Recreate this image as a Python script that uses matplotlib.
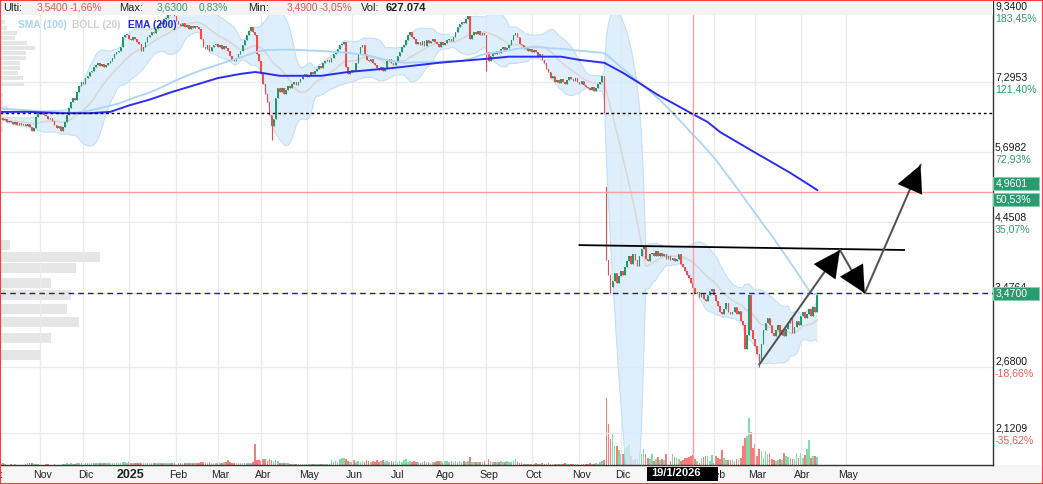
import numpy as np
import pandas as pd
import matplotlib
matplotlib.use("Agg")
import matplotlib.pyplot as plt
from matplotlib.patches import Rectangle
from matplotlib.transforms import IdentityTransform

plt.rcParams['font.family'] = ['Liberation Sans', 'DejaVu Sans']

# ---------------------------------------------------------------- data
start_date = "2024-10-07"          # first business day shown

closes = [
    6.42, 6.38, 6.40, 6.34, 6.36, 6.33, 6.30, 6.35, 6.28, 6.31,
    6.27, 6.30, 6.25, 6.29, 6.24, 6.15, 6.20, 6.45, 6.55, 6.52,
    6.58, 6.50, 6.48, 6.40, 6.44, 6.36, 6.28, 6.20, 6.25, 6.14,
    6.22, 6.35, 6.50, 6.65, 6.80, 6.90, 6.85, 7.05, 7.20, 7.30,
    7.25, 7.40, 7.45, 7.55, 7.60, 7.70, 7.75, 7.80, 7.72, 7.78,
    7.70, 7.76, 7.80, 7.85, 7.95, 8.05, 8.10, 8.15, 8.25, 8.55,
    8.60, 8.62, 8.50, 8.45, 8.55, 8.48, 8.40, 8.35, 8.15, 8.25,
    8.40, 8.55, 8.62, 8.70, 8.68, 8.80, 8.90, 9.00, 8.95, 9.10,
    9.15, 9.25, 9.30, 9.28, 9.20, 9.05, 8.95, 8.90, 8.98, 8.85,
    8.92, 8.80, 8.88, 8.82, 8.90, 8.86, 8.80, 8.50, 8.25, 8.20,
    8.30, 8.15, 8.25, 8.30, 8.35, 8.25, 8.30, 8.20, 8.28, 8.22,
    8.15, 8.00, 7.90, 7.85, 7.95, 8.05, 8.15, 8.30, 8.45, 8.60,
    8.75, 8.85, 8.70, 8.60, 8.05, 7.85, 7.50, 7.25, 7.00, 6.80,
    6.50, 6.25, 6.40, 6.90, 7.15, 7.05, 7.15, 7.00, 7.10, 7.20,
    7.15, 7.25, 7.30, 7.22, 7.30, 7.38, 7.45, 7.50, 7.42, 7.48,
    7.55, 7.50, 7.58, 7.65, 7.72, 7.68, 7.80, 7.85, 7.90, 7.82,
    7.95, 8.05, 8.10, 8.20, 8.30, 8.35, 8.40, 7.70, 7.50, 7.55,
    7.62, 7.58, 7.80, 8.05, 8.25, 8.30, 8.05, 7.90, 7.85, 7.92,
    7.80, 7.75, 7.68, 7.62, 7.70, 7.60, 7.65, 7.85, 7.92, 7.80,
    7.75, 7.82, 8.00, 8.10, 8.25, 8.30, 8.45, 8.60, 8.70, 8.55,
    8.48, 8.35, 8.40, 8.30, 8.42, 8.28, 8.45, 8.38, 8.42, 8.50,
    8.40, 8.35, 8.25, 8.40, 8.30, 8.38, 8.45, 8.50, 8.42, 8.55,
    8.70, 8.85, 8.95, 9.02, 8.98, 9.10, 9.20, 8.50, 8.60, 8.70,
    8.65, 8.72, 8.62, 8.68, 8.60, 8.10, 7.85, 8.00, 8.10, 8.05,
    8.15, 8.08, 8.20, 8.25, 8.18, 8.22, 8.30, 8.45, 8.60, 8.68,
    8.55, 8.35, 8.30, 8.20, 8.25, 8.15, 8.20, 8.12, 8.18, 8.10,
    8.00, 8.05, 7.90, 7.80, 7.65, 7.55, 7.40, 7.45, 7.30, 7.35,
    7.28, 7.38, 7.30, 7.25, 7.35, 7.42, 7.38, 7.32, 7.40, 7.30,
    7.25, 7.32, 7.22, 7.18, 7.15, 7.10, 7.18, 7.08, 7.15, 7.25,
    7.30, 7.45, 6.55, 3.90, 3.70, 3.55, 3.62, 3.72, 3.60, 3.68,
    3.75, 3.70, 3.80, 3.88, 3.95, 3.85, 3.98, 3.90, 3.82, 3.95,
    4.05, 4.10, 3.92, 3.88, 3.98, 4.00, 3.95, 4.02, 3.96, 4.00,
    3.95, 3.98, 3.92, 3.95, 3.90, 3.93, 3.88, 3.92, 3.98, 3.85,
    3.80, 3.75, 3.70, 3.66, 3.60, 3.54, 3.47, 3.48, 3.42, 3.46,
    3.40, 3.38, 3.45, 3.50, 3.52, 3.45, 3.38, 3.32, 3.25, 3.22,
    3.28, 3.35, 3.25, 3.22, 3.25, 3.30, 3.22, 3.26, 3.15, 3.10,
    2.85, 3.00, 3.45, 3.05, 2.95, 2.88, 2.80, 2.72, 2.90, 3.05,
    3.12, 3.18, 3.10, 3.02, 2.98, 3.05, 3.10, 3.00, 3.05, 2.98,
    3.06, 3.12, 3.18, 3.02, 3.08, 3.15, 3.10, 3.20, 3.25, 3.18,
    3.22, 3.28, 3.20, 3.30, 3.25, 3.47,
]

volumes = [  # thousands of shares
    40, 130, 60, 30, 25, 40, 30, 35, 25, 30,
    30, 25, 40, 130, 125, 120, 35, 60, 40, 30,
    30, 25, 35, 40, 30, 25, 35, 30, 25, 30,
    35, 60, 110, 90, 125, 60, 80, 120, 125, 130,
    125, 120, 130, 125, 110, 125, 130, 120, 125, 115,
    125, 130, 120, 110, 125, 130, 120, 125, 130, 190,
    190, 150, 190, 140, 125, 120, 130, 125, 120, 140,
    125, 120, 130, 125, 120, 130, 125, 110, 120, 125,
    130, 125, 120, 130, 125, 120, 125, 130, 125, 120,
    125, 130, 120, 125, 130, 140, 125, 160, 190, 150,
    130, 160, 140, 125, 130, 150, 140, 130, 160, 200,
    320, 190, 130, 125, 130, 125, 130, 125, 120, 125,
    130, 140, 190, 1320, 320, 300, 250, 380, 360, 260,
    380, 300, 250, 310, 250, 120, 125, 110, 125, 100,
    70, 60, 60, 80, 60, 70, 60, 65, 60, 70,
    60, 65, 70, 60, 80, 70, 60, 70, 75, 65,
    320, 190, 250, 190, 380, 440, 410, 380, 250, 190,
    190, 315, 190, 250, 190, 250, 190, 315, 250, 190,
    250, 190, 315, 190, 250, 315, 190, 250, 190, 250,
    190, 250, 190, 250, 190, 315, 380, 190, 250, 190,
    250, 190, 190, 125, 190, 250, 190, 190, 125, 190,
    190, 250, 250, 250, 190, 250, 250, 190, 250, 190,
    250, 190, 250, 190, 250, 190, 250, 500, 190, 190,
    190, 190, 190, 190, 250, 1010, 380, 250, 190, 190,
    190, 190, 250, 190, 190, 250, 190, 190, 250, 380,
    190, 125, 125, 90, 60, 90, 60, 90, 60, 125,
    90, 60, 125, 60, 90, 125, 60, 90, 60, 90,
    60, 90, 60, 125, 60, 90, 60, 60, 90, 60,
    90, 60, 90, 60, 90, 125, 90, 60, 125, 90,
    190, 250, 315, 4220, 2580, 1640, 2020, 1200, 1200, 950,
    690, 690, 1010, 1130, 1320, 570, 315, 380, 380, 820,
    690, 1010, 690, 440, 380, 690, 250, 380, 500, 315,
    380, 315, 690, 380, 250, 690, 500, 440, 380, 250,
    315, 440, 440, 500, 570, 627.074, 380, 250, 125, 440,
    500, 570, 570, 250, 630, 125, 570, 440, 380, 950,
    440, 315, 315, 315, 315, 250, 380, 315, 440, 1200,
    1700, 1830, 2960, 2080, 1070, 1320, 570, 1010, 880, 440,
    880, 690, 760, 380, 315, 250, 315, 380, 315, 760,
    570, 500, 440, 380, 380, 760, 440, 760, 440, 630,
    1010, 1580, 440, 570, 570, 500,
]

open_overrides = {"2025-11-20": 5.05}
high_overrides = {"2025-01-29": 9.34, "2026-01-19": 3.63}
low_overrides = {"2025-04-08": 5.95, "2025-09-01": 7.60, "2025-11-24": 3.47,
                 "2026-01-19": 3.49, "2026-03-04": 2.68}

sma_seed = 6.65      # SMA(100) value at the left edge

ema200_dates = ["2024-10-07", "2024-10-25", "2024-11-15", "2024-12-05", "2024-12-19",
                "2025-01-01", "2025-01-15", "2025-01-30", "2025-02-12", "2025-03-03",
                "2025-03-18", "2025-03-27", "2025-04-01", "2025-04-14", "2025-04-30",
                "2025-05-12", "2025-05-29", "2025-06-30", "2025-07-30", "2025-09-01",
                "2025-09-16", "2025-10-02", "2025-10-21", "2025-11-03", "2025-11-19",
                "2025-12-02", "2025-12-12", "2025-12-25", "2026-01-05", "2026-01-16",
                "2026-01-28", "2026-02-05", "2026-02-26", "2026-03-25", "2026-04-13"]
ema200_values = [6.57, 6.57, 6.54, 6.54, 6.57,
                 6.72, 6.86, 7.05, 7.19, 7.40,
                 7.51, 7.56, 7.54, 7.46, 7.46,
                 7.46, 7.56, 7.67, 7.81, 7.92,
                 7.98, 7.98, 7.98, 7.89, 7.81,
                 7.54, 7.27, 6.97, 6.78, 6.54,
                 6.34, 6.12, 5.74, 5.30, 4.99]

axis_levels = [9.34, 7.2953, 5.6982, 4.4508, 3.4764, 2.68, 2.1209]
axis_pcts = [183.45, 121.40, 72.93, 35.07, None, -18.66, -35.62]

user_hline = 6.55
cross_date = "2026-01-19"
cross_label = "19/1/2026"
cross_price = 4.9601
cross_pct = 50.53

trend_dates = ["2025-11-03", "2026-06-10"]
trend_prices = [4.11, 4.04]
path_dates = ["2026-03-04", "2026-04-28", "2026-05-14", "2026-06-22"]
path_prices = [2.70, 4.04, 3.47, 5.45]

month_labels = ["Oct", "Nov", "Dic", "2025", "Feb", "Mar", "Abr", "May", "Jun", "Jul",
                "Ago", "Sep", "Oct", "Nov", "Dic", "", "Feb", "Mar", "Abr", "May"]

profile_upper_prices = [9.02, 8.83, 8.67, 8.52, 8.37, 8.23, 8.08, 7.94, 7.80, 7.67,
                        7.53, 7.40, 7.25, 6.97, 6.78, 6.66, 6.54, 6.43, 6.32, 6.17]
profile_upper_vol = [5, 7, 17, 15, 27, 35, 26, 26, 20, 20, 18, 23, 24, 3, 3, 8, 7, 5, 3, 3]
profile_lower_prices = [4.11, 3.94, 3.79, 3.60, 3.45, 3.28, 3.13, 2.96, 2.79]
profile_lower_vol = [10, 100, 76, 51, 71, 67, 79, 51, 41]

header = [("Ulti:", 3, '#222222', 'normal'), ("3,5400", 37, '#f05454', 'normal'),
          ("-1,66%", 70, '#f05454', 'normal'), ("Max:", 119, '#222222', 'normal'),
          ("3,6300", 157, '#2a9d6f', 'normal'), ("0,83%", 199, '#2a9d6f', 'normal'),
          ("Min:", 248, '#222222', 'normal'), ("3,4900", 287, '#f05454', 'normal'),
          ("-3,05%", 320, '#f05454', 'normal'), ("Vol:", 361, '#222222', 'normal'),
          ("627.074", 386, '#222222', 'bold')]
legend = [("SMA (100)", 18, '#a9d4f5'), ("BOLL (20)", 72, '#d2d2d2'), ("EMA (200)", 128, '#2424e0')]

# ---------------------------------------------------------------- helpers
W, H, DPI = 1043, 484, 100
start64 = np.datetime64(start_date)


def pos_of(d):
    d64 = np.busday_offset(np.datetime64(pd.Timestamp(d).date()), 0, roll='forward')
    return int(np.busday_count(start64, d64))


c = np.array(closes, dtype=float)
v = np.array(volumes, dtype=float)
n = len(c)
x = np.arange(n)
o = np.r_[c[0], c[:-1]]
for d, val in open_overrides.items():
    o[pos_of(d)] = val
hi = np.maximum(o, c)
lo = np.minimum(o, c)
for d, val in high_overrides.items():
    hi[pos_of(d)] = val
for d, val in low_overrides.items():
    lo[pos_of(d)] = val
up = c >= o

# indicators
cs = np.cumsum(c)
shifted = np.r_[np.zeros(100), cs][:n]
cnt = np.arange(1, n + 1)
sma = (cs - shifted + np.maximum(100 - cnt, 0) * sma_seed) / 100.0
s = pd.Series(c)
bmid = s.rolling(20, min_periods=1).mean().values
bsd = s.rolling(20, min_periods=1).std(ddof=0).fillna(0).values
bup = bmid + 2 * bsd
blo = np.maximum(bmid - 2 * bsd, 0.5)

# ---------------------------------------------------------------- figure
fig = plt.figure(figsize=(W / DPI, H / DPI), dpi=DPI)
fig.patch.set_facecolor('white')
rect = [0, 19 / H, 993 / W, 465 / H]
XL = (-0.35, 480.05)
YL = (1.895, 9.742)

pax = fig.add_axes(rect, zorder=0)
vax = fig.add_axes(rect, zorder=1)
ax = fig.add_axes(rect, zorder=2)
for a in (pax, vax, ax):
    a.patch.set_visible(False)

fig.add_artist(Rectangle((0, 0), 1, 19 / H, transform=fig.transFigure,
                         fc='#f6f6f6', ec='none', zorder=-5))

# volume profile
pax.set_yscale('log')
pax.set_ylim(*YL)
pax.set_xlim(0, 993)
pax.axis('off')
lpp = np.log(YL[1] / YL[0]) / 465.0
for prices, vols, th in ((profile_upper_prices, profile_upper_vol, 4.6),
                         (profile_lower_prices, profile_lower_vol, 10.0)):
    for p, vv in zip(prices, vols):
        b = p * np.exp(-th / 2 * lpp)
        t = p * np.exp(th / 2 * lpp)
        pax.add_patch(Rectangle((0, b), vv, t - b, fc='#e4e4e4', ec='none', alpha=0.9))

# volume
vax.set_xlim(*XL)
vax.set_ylim(0, v.max() * 465 / 67)
vax.bar(x, v, width=0.8, color=np.where(up, '#7fdcab', '#f87c7c'), linewidth=0)
vax.axis('off')

# price axes
ax.set_yscale('log')
ax.set_xlim(*XL)
ax.set_ylim(*YL)
ax.set_xticks([])
ax.set_yticks([])
ax.minorticks_off()
ax.tick_params(which='both', left=False, right=False, bottom=False, top=False,
               labelleft=False, labelbottom=False)
for sp in ('left', 'top'):
    ax.spines[sp].set_visible(False)
for sp in ('right', 'bottom'):
    ax.spines[sp].set_color('#333333')
    ax.spines[sp].set_linewidth(1.0)

# grid
month_starts = pd.date_range('2024-10-01', periods=len(month_labels), freq='MS')
mpos = [pos_of(d) for d in month_starts]
for mp in mpos:
    ax.axvline(mp, color='#ebebeb', lw=1, zorder=0)
for lv in axis_levels:
    ax.axhline(lv, color='#ebebeb', lw=1, zorder=0)

# bollinger
ax.fill_between(x, blo, bup, color='#d7eafb', alpha=0.8, lw=0, zorder=1)
ax.plot(x, bup, color='#c4e0f7', lw=0.8, zorder=1.1)
ax.plot(x, blo, color='#c4e0f7', lw=0.8, zorder=1.1)
ax.plot(x, bmid, color='#d8d8d8', lw=1.2, zorder=1.2)

# candles
col = np.where(up, '#23996a', '#f24b4b')
ax.vlines(x, lo, hi, colors=col, lw=0.8, zorder=3)
body_b = np.minimum(o, c)
body_h = np.maximum(np.abs(c - o), c * 0.004)
ax.bar(x, body_h, bottom=body_b, width=0.75, color=col, linewidth=0, zorder=3)

# moving averages
ax.plot(x, sma, color='#a9d5f8', lw=1.3, zorder=4)
ax.plot([pos_of(d) for d in ema200_dates], ema200_values, color='#2d2df0', lw=1.4, zorder=4)

# horizontal reference lines
ax.axhline(user_hline, color='black', lw=1, linestyle=(0, (2, 2)), zorder=5)
ax.axhline(c[-1], color='#1c1c9c', lw=1, linestyle=(0, (4, 3)), zorder=5)
cpos = pos_of(cross_date)
ax.axvline(cpos, color='#ff9f9f', lw=1, zorder=5)
ax.axhline(cross_price, color='#ff9f9f', lw=1, zorder=5)

# drawings
ax.plot([pos_of(d) for d in trend_dates], trend_prices, color='black', lw=1.3, zorder=6)
pp = [pos_of(d) for d in path_dates]
ax.plot(pp, path_prices, color='#5e5e5e', lw=1.5, zorder=6)
for k in range(1, len(pp)):
    ax.annotate('', xy=(pp[k], path_prices[k]), xytext=(pp[k - 1], path_prices[k - 1]),
                arrowprops=dict(arrowstyle='-|>,head_length=1.9,head_width=0.95',
                                mutation_scale=10, fc='black', ec='black', lw=0.1,
                                shrinkA=0, shrinkB=0), zorder=7)

# right axis labels
fmt = lambda val: f"{val:.4f}".replace('.', ',')
pfmt = lambda val: f"{val:.2f}".replace('.', ',') + '%'
ytr = ax.get_yaxis_transform()
for lv, pc in zip(axis_levels, axis_pcts):
    ax.annotate(fmt(lv), xy=(1, lv), xycoords=ytr, xytext=(2, 2), textcoords='offset pixels',
                ha='left', va='baseline', fontsize=7.6, color='#1a1a1a', annotation_clip=False)
    if pc is None:
        continue
    ax.annotate(pfmt(pc), xy=(1, lv), xycoords=ytr, xytext=(2, -2), textcoords='offset pixels',
                ha='left', va='top', fontsize=7.6,
                color='#2a9d6f' if pc >= 0 else '#f25a5a', annotation_clip=False)

ident = IdentityTransform()


def green_box(yc, text):
    fig.add_artist(Rectangle((993, yc - 6.5), 46, 13, transform=ident, fc='#2a9b6e',
                             ec='#7fcfae', lw=0.8, zorder=20))
    fig.text(996, yc, text, transform=ident, ha='left', va='center', fontsize=7.6,
             color='white', zorder=21)


fig.canvas.draw()
y_last = ax.transData.transform((0, c[-1]))[1]
green_box(y_last, fmt(c[-1]))
y_cross = ax.transData.transform((0, cross_price))[1]
green_box(y_cross + 8, fmt(cross_price))
green_box(y_cross - 8, pfmt(cross_pct))

# month labels
xtr = ax.get_xaxis_transform()
for mp, lab in zip(mpos, month_labels):
    if not lab:
        continue
    bold = lab.isdigit()
    ax.text(mp + 1, -9.5 / 465, lab, transform=xtr, ha='center', va='center',
            fontsize=9 if bold else 7.6, fontweight='bold' if bold else 'normal',
            color='#222222', clip_on=False)

# crosshair date box
xc = ax.transData.transform((cpos, 3))[0]
fig.add_artist(Rectangle((xc - 46, 3), 71, 14, transform=ident, fc='black', ec='none', zorder=22))
fig.text(xc - 42, 10.5, cross_label, transform=ident, ha='left', va='center', fontsize=8,
         fontweight='bold', color='white', zorder=23)

# header
fig.add_artist(Rectangle((0, H - 15), 993, 15, transform=ident, fc='#f3f3f3', ec='none', zorder=8))
for txt, px, colr, fw in header:
    fig.text(px, H - 8, txt, transform=ident, ha='left', va='center',
             fontsize=8 if colr == '#222222' else 7.4,
             color=colr, fontweight=fw, zorder=9)
for txt, px, colr in legend:
    fig.text(px, H - 24.5, txt, transform=ident, ha='left', va='center', fontsize=7.4,
             color=colr, fontweight='bold', zorder=9)

# outer red frame
fig.add_artist(Rectangle((0, 0), 1, 1, transform=fig.transFigure, fill=False,
                         ec='#ff3b3b', lw=1.5, zorder=30))

fig.savefig('out.png', dpi=DPI, facecolor='white')
